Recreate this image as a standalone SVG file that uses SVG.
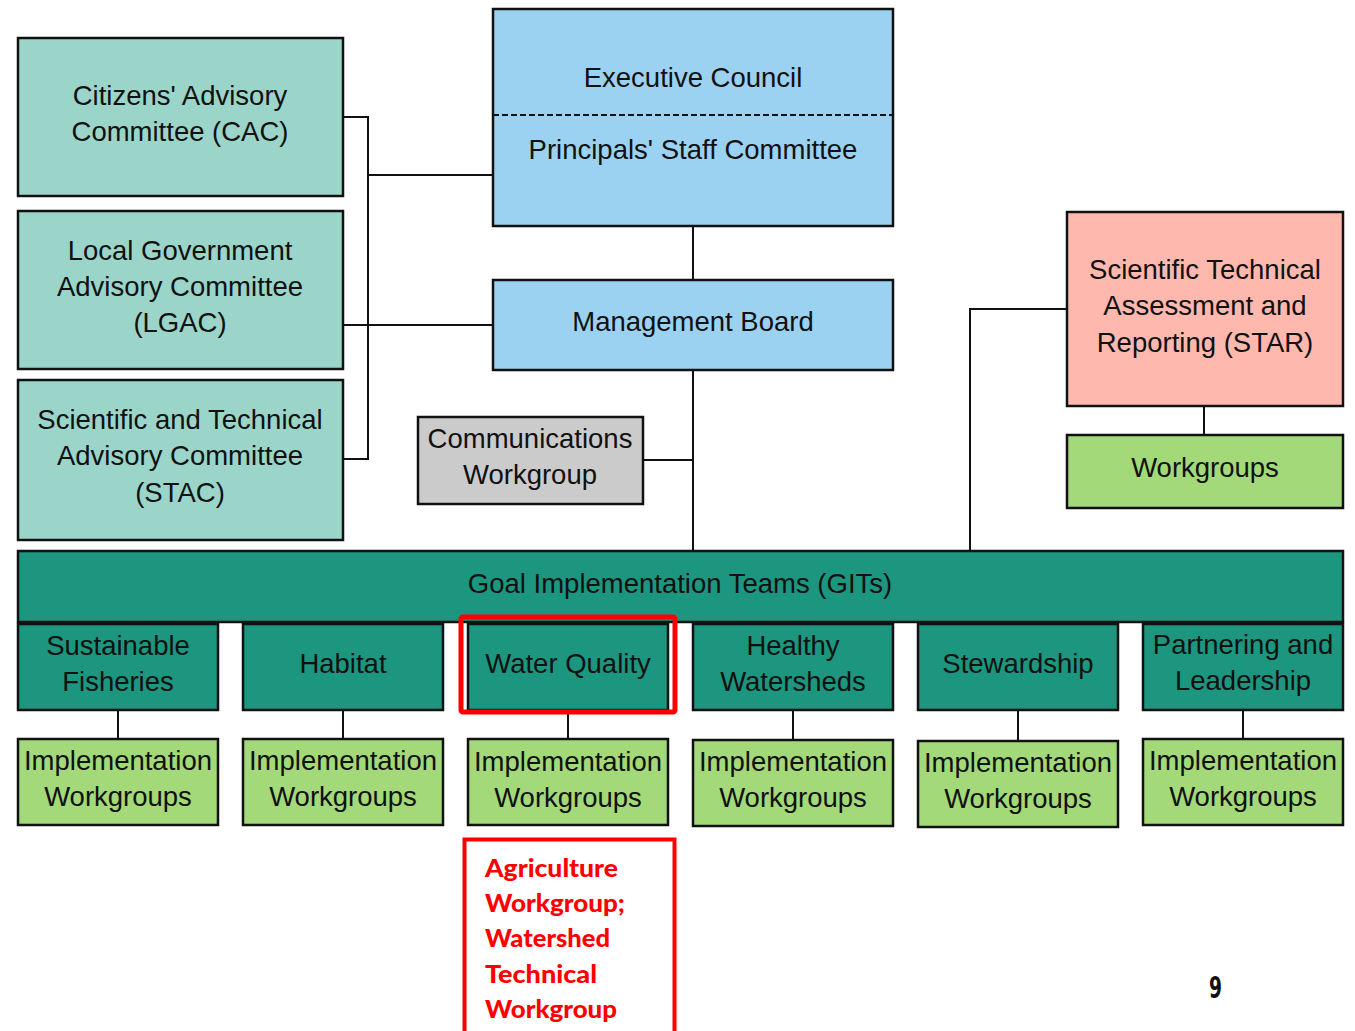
<svg xmlns="http://www.w3.org/2000/svg" width="1355" height="1031" viewBox="0 0 1355 1031">
  <style>
    .box { stroke: #111; stroke-width: 2.5; }
    .adv { fill: #9bd5ca; }
    .blue { fill: #9cd2f1; }
    .star { fill: #feb8ae; }
    .green { fill: #a3d978; }
    .git { fill: #1c967e; }
    .gray { fill: #cbcbcb; }
    .lbl { font-family: "Liberation Sans", Arial, sans-serif; font-size: 27.5px; fill: #111; text-anchor: middle; }
    .conn { fill: none; stroke: #111; stroke-width: 2; }
    .hl { fill: none; stroke: #ff0000; stroke-width: 5; }
    .note { font-family: "Lato", "DejaVu Sans", sans-serif; font-weight: 900; font-size: 25px; fill: #ff0000; }
    .page { font-family: "DejaVu Sans Condensed", "DejaVu Sans", sans-serif; font-weight: bold; font-size: 31px; fill: #111; }
  </style>

  <!-- connectors -->
  <g id="connectors">
    <path class="conn" d="M343 117 H368 V459 H343"/>
    <path class="conn" d="M368 175 H493"/>
    <path class="conn" d="M343 325 H493"/>
    <path class="conn" d="M693 226 V280"/>
    <path class="conn" d="M693 370 V551"/>
    <path class="conn" d="M643 460 H693"/>
    <path class="conn" d="M1067 309 H970 V551"/>
    <path class="conn" d="M1204 406 V435"/>
    <path class="conn" d="M118 710 V739"/>
    <path class="conn" d="M343 710 V739"/>
    <path class="conn" d="M568 712 V739"/>
    <path class="conn" d="M793 710 V740"/>
    <path class="conn" d="M1018 710 V740"/>
    <path class="conn" d="M1243 710 V739"/>
  </g>

  <!-- advisory committees -->
  <g id="cac">
    <rect class="box adv" x="18" y="38" width="325" height="158"/>
    <text class="lbl" x="180" y="105">Citizens' Advisory</text>
    <text class="lbl" x="180" y="141">Committee (CAC)</text>
  </g>
  <g id="lgac">
    <rect class="box adv" x="18" y="211" width="325" height="158"/>
    <text class="lbl" x="180" y="260">Local Government</text>
    <text class="lbl" x="180" y="296">Advisory Committee</text>
    <text class="lbl" x="180" y="332">(LGAC)</text>
  </g>
  <g id="stac">
    <rect class="box adv" x="18" y="380" width="325" height="160"/>
    <text class="lbl" x="180" y="429">Scientific and Technical</text>
    <text class="lbl" x="180" y="465">Advisory Committee</text>
    <text class="lbl" x="180" y="502">(STAC)</text>
  </g>

  <!-- executive council / principals' staff committee -->
  <g id="exec">
    <rect class="box blue" x="493" y="9" width="400" height="217"/>
    <line x1="493" y1="115" x2="893" y2="115" stroke="#111" stroke-width="2" stroke-dasharray="6 3"/>
    <text class="lbl" x="693" y="87">Executive Council</text>
    <text class="lbl" x="693" y="159">Principals' Staff Committee</text>
  </g>
  <g id="mgmt">
    <rect class="box blue" x="493" y="280" width="400" height="90"/>
    <text class="lbl" x="693" y="331">Management Board</text>
  </g>
  <g id="comms">
    <rect class="box gray" x="418" y="417" width="225" height="87"/>
    <text class="lbl" x="530" y="448">Communications</text>
    <text class="lbl" x="530" y="484">Workgroup</text>
  </g>

  <!-- STAR -->
  <g id="star">
    <rect class="box star" x="1067" y="212" width="276" height="194"/>
    <text class="lbl" x="1205" y="279">Scientific Technical</text>
    <text class="lbl" x="1205" y="315">Assessment and</text>
    <text class="lbl" x="1205" y="352">Reporting (STAR)</text>
  </g>
  <g id="star-wg">
    <rect class="box green" x="1067" y="435" width="276" height="73"/>
    <text class="lbl" x="1205" y="477">Workgroups</text>
  </g>

  <!-- goal implementation teams -->
  <g id="gits">
    <rect class="box git" x="18" y="551" width="1325" height="71"/>
    <text class="lbl" x="680" y="593">Goal Implementation Teams (GITs)</text>
  </g>
  <g id="git-fisheries">
    <rect class="box git" x="18" y="624" width="200" height="86"/>
    <text class="lbl" x="118" y="655">Sustainable</text>
    <text class="lbl" x="118" y="691">Fisheries</text>
  </g>
  <g id="git-habitat">
    <rect class="box git" x="243" y="624" width="200" height="86"/>
    <text class="lbl" x="343" y="673">Habitat</text>
  </g>
  <g id="git-water">
    <rect class="box git" x="468" y="624" width="200" height="86"/>
    <text class="lbl" x="568" y="673">Water Quality</text>
    <rect class="hl" x="461" y="617" width="214" height="95" rx="2"/>
  </g>
  <g id="git-watersheds">
    <rect class="box git" x="693" y="624" width="200" height="86"/>
    <text class="lbl" x="793" y="655">Healthy</text>
    <text class="lbl" x="793" y="691">Watersheds</text>
  </g>
  <g id="git-stewardship">
    <rect class="box git" x="918" y="624" width="200" height="86"/>
    <text class="lbl" x="1018" y="673">Stewardship</text>
  </g>
  <g id="git-leadership">
    <rect class="box git" x="1143" y="624" width="200" height="86"/>
    <text class="lbl" x="1243" y="654">Partnering and</text>
    <text class="lbl" x="1243" y="690">Leadership</text>
  </g>

  <!-- implementation workgroups -->
  <g id="iw-fisheries">
    <rect class="box green" x="18" y="739" width="200" height="86"/>
    <text class="lbl" x="118" y="770">Implementation</text>
    <text class="lbl" x="118" y="806">Workgroups</text>
  </g>
  <g id="iw-habitat">
    <rect class="box green" x="243" y="739" width="200" height="86"/>
    <text class="lbl" x="343" y="770">Implementation</text>
    <text class="lbl" x="343" y="806">Workgroups</text>
  </g>
  <g id="iw-water">
    <rect class="box green" x="468" y="739" width="200" height="86"/>
    <text class="lbl" x="568" y="771">Implementation</text>
    <text class="lbl" x="568" y="807">Workgroups</text>
  </g>
  <g id="iw-watersheds">
    <rect class="box green" x="693" y="740" width="200" height="86"/>
    <text class="lbl" x="793" y="771">Implementation</text>
    <text class="lbl" x="793" y="807">Workgroups</text>
  </g>
  <g id="iw-stewardship">
    <rect class="box green" x="918" y="741" width="200" height="86"/>
    <text class="lbl" x="1018" y="772">Implementation</text>
    <text class="lbl" x="1018" y="808">Workgroups</text>
  </g>
  <g id="iw-leadership">
    <rect class="box green" x="1143" y="739" width="200" height="86"/>
    <text class="lbl" x="1243" y="770">Implementation</text>
    <text class="lbl" x="1243" y="806">Workgroups</text>
  </g>

  <!-- water quality workgroups callout -->
  <g id="wq-callout">
    <rect x="464.500" y="839.500" width="210" height="220" fill="none" stroke="#ff0000" stroke-width="4"/>
    <text class="note" x="485" y="877" textLength="133" lengthAdjust="spacingAndGlyphs">Agriculture</text>
    <text class="note" x="485" y="912" textLength="140" lengthAdjust="spacingAndGlyphs">Workgroup;</text>
    <text class="note" x="485" y="947" textLength="125" lengthAdjust="spacingAndGlyphs">Watershed</text>
    <text class="note" x="485" y="983" textLength="112" lengthAdjust="spacingAndGlyphs">Technical</text>
    <text class="note" x="485" y="1018" textLength="132" lengthAdjust="spacingAndGlyphs">Workgroup</text>
  </g>

  <!-- slide number -->
  <text class="page" x="1209" y="998" textLength="13" lengthAdjust="spacingAndGlyphs">9</text>
</svg>
